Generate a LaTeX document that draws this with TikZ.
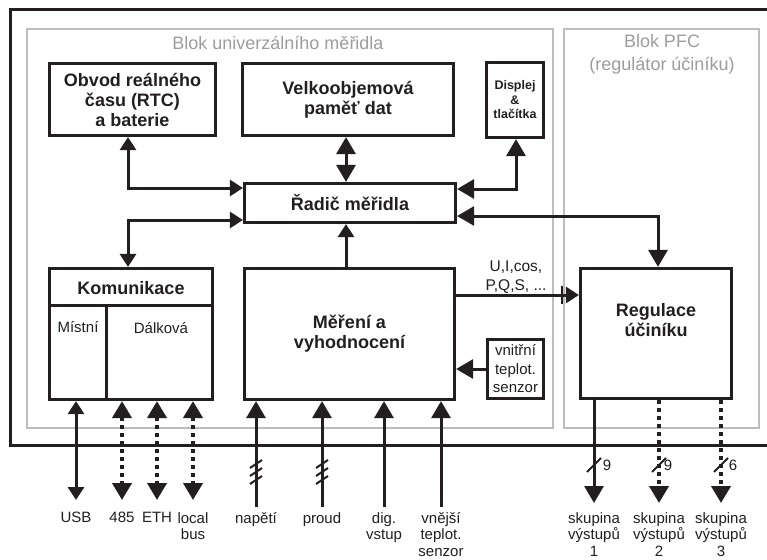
\documentclass[tikz,border=0pt]{standalone}
\usepackage{fontspec}
\setmainfont{Liberation Sans}
\usetikzlibrary{arrows.meta,calc}
\definecolor{ink}{HTML}{231F20}
\definecolor{framegray}{HTML}{BDBDBD}
\definecolor{titlegray}{HTML}{9D9D9D}
\begin{document}
\begin{tikzpicture}[x=1pt,y=-1pt,
  box/.style={draw=ink, line width=3.2pt, fill=white, inner sep=0pt, text=ink, align=center,
    font=\fontsize{18}{20}\selectfont\bfseries},
  grayframe/.style={draw=framegray, line width=2pt},
  conn/.style={line width=3pt, draw=ink},
  dotconn/.style={line width=4pt, draw=ink, dash pattern=on 4pt off 4pt},
  tipN/.tip={Triangle[length=13pt,width=16pt]},
  tipB/.tip={Triangle[length=17pt,width=19pt]},
  lbl/.style={font=\fontsize{15}{17.5}\selectfont, text=ink, align=center, inner sep=0pt},
  blbl/.style={font=\fontsize{15}{16.5}\selectfont, text=ink, align=center, inner sep=0pt, anchor=north},
  ttl/.style={font=\fontsize{18}{23}\selectfont, text=titlegray, align=center, inner sep=0pt},
  slash/.style={draw=ink, line width=2pt}
]
\useasboundingbox (0,0) rectangle (767,559);
\fill[white] (0,0) rectangle (767,559);

% outer frame (open to the right)
\draw[line width=3pt, draw=ink] (770,10) -- (10,10) -- (10,445) -- (770,445);

% gray blocks
\draw[grayframe] (27,29) rectangle (553,428);
\draw[grayframe] (564,29) rectangle (759,428);
\node[ttl] (t1) at (278,43) {Blok univerzálního měřidla};
\node[ttl] (t2) at (662,54) {Blok PFC\\(regulátor účiníku)};

% boxes
\node[box, minimum width=166pt, minimum height=72pt] (rtc) at (132.5,99.5) {Obvod reálného\\času (RTC)\\a baterie};
\node[box, minimum width=211pt, minimum height=72pt] (velk) at (348,99.5) {Velkoobjemová\\paměť dat};
\node[box, minimum width=57pt, minimum height=75pt, font=\fontsize{12.5}{14.5}\selectfont\bfseries] (disp) at (515,100) {Displej\\\&\\tlačítka};
\node[box, minimum width=211pt, minimum height=39pt] (radic) at (350,203) {Řadič měřidla};
\node[box, minimum width=163pt, minimum height=131pt] (kom) at (131,334) {};
\node[box, minimum width=210pt, minimum height=131pt] (mer) at (349.5,334) {Měření a\\vyhodnocení};
\node[box, minimum width=56pt, minimum height=59pt, font=\fontsize{15}{18.5}\selectfont] (vn) at (515.5,369) {vnitřní\\teplot.\\senzor};
\node[box, minimum width=151pt, minimum height=130pt] (reg) at (656,333.5) {};
\node[box, draw=none, fill=none] (regt) at (656,320) {Regulace\\účiníku};

% Komunikace inner structure
\draw[line width=3pt, draw=ink] ($(kom.north west)+(0,38.5)$) -- ($(kom.north east)+(0,38.5)$);
\draw[line width=3pt, draw=ink] ($(kom.north west)+(58.5,38.5)$) -- ($(kom.south west)+(58.5,0)$);
\node[box, draw=none, fill=none] (komt) at (131,288) {Komunikace};
\node[lbl] (mist) at (78,327) {Místní};
\node[lbl] (dalk) at (161,328) {Dálková};

% internal connectors
\draw[conn, arrows={tipN-tipN}] ([xshift=-4.5pt]rtc.south) |- ([yshift=15pt]radic.west);
\draw[conn, arrows={tipN-tipN}] ([yshift=-17pt]radic.west) -| ([xshift=-3pt]kom.north);
\draw[conn, arrows={tipB-tipB}] ([xshift=-2pt]velk.south) -- ([xshift=-4pt]radic.north);
\draw[conn, arrows={tipB-tipB}] ([xshift=1pt]disp.south) |- ([yshift=14pt]radic.east);
\draw[conn, arrows={tipB-tipB}] ([yshift=-13pt]radic.east) -| ([xshift=2pt]reg.north);
\draw[conn, arrows={-tipN}] ([xshift=-3.5pt]mer.north) -- ([xshift=-4pt]radic.south);
\draw[conn, arrows={-tipN}] ([yshift=39pt]mer.east) -- ([yshift=38.5pt]reg.west);
\coordinate (tk) at (562,295);
\draw[line width=2.5pt, draw=ink] ($(tk)+(0,-9)$) -- ($(tk)+(0,9)$);
\node[lbl, font=\fontsize{15.5}{19}\selectfont] (uic) at (516,277) {U,I,cos,\\P,Q,S, ...};
\draw[conn, arrows={-tipB}] (vn.west) -- (vn.west -| mer.east);

% communication ports
\coordinate (usbE) at (76,500);
\coordinate (p485) at (122,500);
\coordinate (peth) at (157,500);
\coordinate (ploc) at (193,500);
\draw[conn, arrows={tipN-tipN}] (kom.south -| usbE) -- (usbE);
\draw[dotconn, arrows={tipB-tipB}] (kom.south -| p485) -- (p485);
\draw[dotconn, arrows={tipB-tipB}] (kom.south -| peth) -- (peth);
\draw[dotconn, arrows={tipB-tipB}] (kom.south -| ploc) -- (ploc);

% measurement inputs
\coordinate (nap) at (256,507);
\coordinate (pro) at (322,507);
\coordinate (dig) at (384,507);
\coordinate (vne) at (441,507);
\draw[conn, arrows={-tipB}] (nap) -- (nap |- mer.south);
\draw[conn, arrows={-tipB}] (pro) -- (pro |- mer.south);
\draw[conn, arrows={-tipB}] (dig) -- (dig |- mer.south);
\draw[conn, arrows={-tipB}] (vne) -- (vne |- mer.south);
\foreach \c in {nap,pro}{
  \foreach \k in {-8,0,8}{
    \draw[slash] ($(\c)+(-6,-35+\k+4)$) -- ($(\c)+(6,-35+\k-4)$);
  }
}

% outputs
\coordinate (o1) at (594,503);
\coordinate (o2) at (659,503);
\coordinate (o3) at (721,503);
\draw[conn, arrows={-tipB}] (reg.south -| o1) -- (o1);
\draw[dotconn, arrows={-tipB}] (reg.south -| o2) -- (o2);
\draw[dotconn, arrows={-tipB}] (reg.south -| o3) -- (o3);
\draw[slash] ($(o1)+(-7,-31)$) -- ($(o1)+(7,-45)$);
\draw[slash] ($(o2)+(-7,-31)$) -- ($(o2)+(7,-45)$);
\draw[slash] ($(o3)+(-7,-31)$) -- ($(o3)+(7,-45)$);
\node[lbl] (n1) at ($(o1)+(13,-38)$) {9};
\node[lbl] (n2) at ($(o2)+(9,-38)$) {9};
\node[lbl] (n3) at ($(o3)+(12,-38)$) {6};

% bottom labels
\node[blbl] (lusb) at (76,512) {USB};
\node[blbl] (l485) at (122,512) {485};
\node[blbl] (leth) at (157,512) {ETH};
\node[blbl] (lloc) at (193,512) {local\\bus};
\node[blbl] (lnap) at (256,512) {napětí};
\node[blbl] (lpro) at (322,512) {proud};
\node[blbl] (ldig) at (384,512) {dig.\\vstup};
\node[blbl] (lvne) at (441,512) {vnější\\teplot.\\senzor};
\node[blbl] (lo1) at (594,512) {skupina\\výstupů\\1};
\node[blbl] (lo2) at (659,512) {skupina\\výstupů\\2};
\node[blbl] (lo3) at (721,512) {skupina\\výstupů\\3};
\end{tikzpicture}
\end{document}
